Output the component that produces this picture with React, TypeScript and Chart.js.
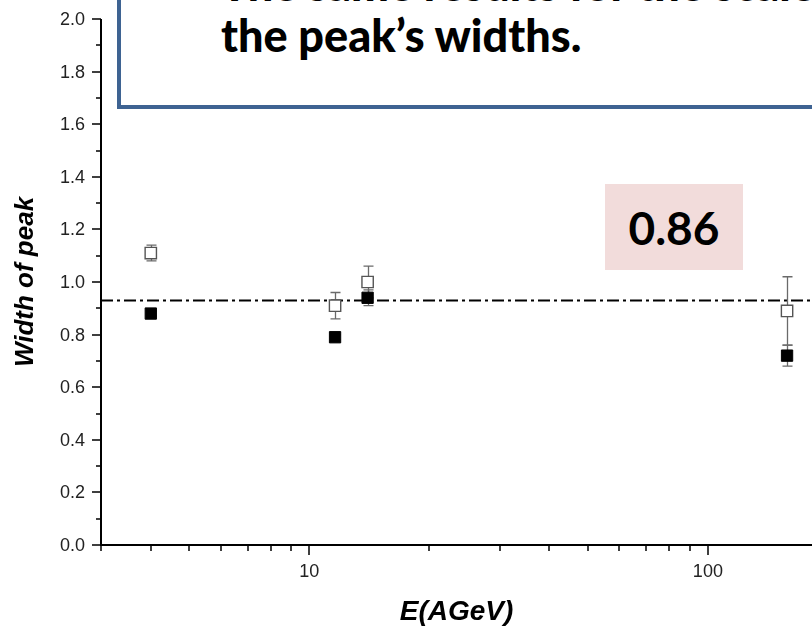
import { useEffect, useRef } from 'react';
import { Chart, registerables } from 'chart.js';

Chart.register(...registerables);

// Beam energy per nucleon (AGeV)
const ENERGY = [4, 11.6, 14, 158];
// Open squares: width of peak with its uncertainty
const OPEN_WIDTH = [1.11, 0.91, 1.0, 0.89];
const OPEN_ERR = [0.03, 0.05, 0.06, 0.13];
// Filled squares: width of peak with its uncertainty
const FILLED_WIDTH = [0.88, 0.79, 0.94, 0.72];
const FILLED_ERR = [0.01, 0.01, 0.03, 0.04];
// Horizontal dash-dot reference level
const REFERENCE_WIDTH = 0.93;

// Axis ticks
const X_MIN = 3;
const X_MAX = 182.5;
const X_TICKS = [3, 4, 5, 6, 7, 8, 9, 10, 20, 30, 40, 50, 60, 70, 80, 90, 100];
const X_LABELED = [10, 100];
const Y_MIN = 0;
const Y_MAX = 2;
const Y_TICKS = [0, 0.1, 0.2, 0.3, 0.4, 0.5, 0.6, 0.7, 0.8, 0.9, 1.0, 1.1, 1.2, 1.3, 1.4, 1.5, 1.6, 1.7, 1.8, 1.9, 2.0];
const Y_LABELED = ['0.0', '0.2', '0.4', '0.6', '0.8', '1.0', '1.2', '1.4', '1.6', '1.8', '2.0'];

const X_TITLE = 'E(AGeV)';
const Y_TITLE = 'Width of peak';
const NOTE_LINES = ['The same results for the scaled variance and', 'the peak\u2019s widths.'];
const BADGE = '0.86';

const AXIS_FONT = "'Liberation Sans', Arial, sans-serif";
const TICK_FONT = "18px 'Liberation Sans', Arial, sans-serif";

// Error bars and the dash-dot reference line, painted beneath the markers
const underlay = {
  id: 'underlay',
  beforeDatasetsDraw(chart: any) {
    const { ctx, chartArea, scales } = chart;
    const x = scales.x;
    const y = scales.y;
    ctx.save();
    const yr = Math.round(y.getPixelForValue(REFERENCE_WIDTH)) + 0.5;
    ctx.strokeStyle = '#000';
    ctx.lineWidth = 2;
    ctx.setLineDash([12, 4, 3, 4]);
    ctx.beginPath();
    ctx.moveTo(chartArea.left, yr);
    ctx.lineTo(chartArea.right, yr);
    ctx.stroke();
    ctx.setLineDash([]);

    ctx.strokeStyle = '#6a6a6a';
    ctx.lineWidth = 1.3;
    chart.data.datasets.forEach((ds: any) => {
      ds.data.forEach((p: any, i: number) => {
        const e = ds.errors[i];
        const px = Math.round(x.getPixelForValue(p.x)) + 0.5;
        const top = y.getPixelForValue(p.y + e);
        const bot = y.getPixelForValue(p.y - e);
        ctx.beginPath();
        ctx.moveTo(px, top);
        ctx.lineTo(px, bot);
        ctx.moveTo(px - 5, top);
        ctx.lineTo(px + 5, top);
        ctx.moveTo(px - 5, bot);
        ctx.lineTo(px + 5, bot);
        ctx.stroke();
      });
    });
    ctx.restore();
  },
};

// Axis lines, major and minor tick marks, and tick labels
const axes = {
  id: 'axesFrame',
  afterDraw(chart: any) {
    const { ctx, chartArea, scales } = chart;
    const x = scales.x;
    const y = scales.y;
    ctx.save();
    ctx.strokeStyle = '#000';
    ctx.lineWidth = 2;
    ctx.beginPath();
    ctx.moveTo(chartArea.left, chartArea.top);
    ctx.lineTo(chartArea.left, chartArea.bottom);
    ctx.moveTo(chartArea.left - 1, chartArea.bottom);
    ctx.lineTo(chartArea.right, chartArea.bottom);
    ctx.stroke();

    ctx.lineWidth = 1.5;
    ctx.beginPath();
    X_TICKS.forEach((v) => {
      const px = Math.round(x.getPixelForValue(v));
      const len = X_LABELED.includes(v) ? 10 : 6;
      ctx.moveTo(px, chartArea.bottom);
      ctx.lineTo(px, chartArea.bottom + len);
    });
    Y_TICKS.forEach((v) => {
      const py = Math.round(y.getPixelForValue(v));
      const len = Y_LABELED.includes(v.toFixed(1)) ? 9 : 5;
      ctx.moveTo(chartArea.left, py);
      ctx.lineTo(chartArea.left - len, py);
    });
    ctx.stroke();

    ctx.fillStyle = '#222';
    ctx.font = TICK_FONT;
    ctx.textAlign = 'right';
    ctx.textBaseline = 'middle';
    Y_TICKS.forEach((v) => {
      const t = v.toFixed(1);
      if (!Y_LABELED.includes(t)) return;
      ctx.fillText(t, chartArea.left - 16, y.getPixelForValue(v) + 1);
    });
    ctx.textAlign = 'center';
    X_LABELED.forEach((v) => {
      ctx.fillText(String(v), x.getPixelForValue(v), chartArea.bottom + 27);
    });
    ctx.restore();
  },
};

export default function App() {
  const canvasRef = useRef<HTMLCanvasElement | null>(null);

  useEffect(() => {
    const canvas = canvasRef.current;
    if (!canvas) return;
    const chart = new Chart(canvas, {
      type: 'scatter',
      data: {
        datasets: [
          {
            label: 'open',
            data: ENERGY.map((e, i) => ({ x: e, y: OPEN_WIDTH[i] })),
            errors: OPEN_ERR,
            pointStyle: 'rect',
            pointRadius: 8,
            pointBackgroundColor: '#fff',
            pointBorderColor: '#555',
            pointBorderWidth: 1.4,
            showLine: false,
          } as any,
          {
            label: 'filled',
            data: ENERGY.map((e, i) => ({ x: e, y: FILLED_WIDTH[i] })),
            errors: FILLED_ERR,
            pointStyle: 'rect',
            pointRadius: 8,
            pointBackgroundColor: '#000',
            pointBorderColor: '#000',
            pointBorderWidth: 1,
            showLine: false,
          } as any,
        ],
      },
      options: {
        animation: false,
        responsive: false,
        devicePixelRatio: 1,
        layout: { autoPadding: false, padding: { top: 19, right: 0, left: 0, bottom: 0 } },
        plugins: {
          legend: { display: false },
          tooltip: { enabled: false },
        },
        scales: {
          x: {
            type: 'logarithmic',
            min: X_MIN,
            max: X_MAX,
            bounds: 'data',
            grid: { display: false, drawTicks: false },
            border: { display: false },
            afterBuildTicks: (s: any) => {
              s.ticks = X_TICKS.map((v) => ({ value: v, major: X_LABELED.includes(v) }));
            },
            afterFit: (s: any) => {
              s.height = 88;
            },
            ticks: { display: false },
            title: {
              display: true,
              text: X_TITLE,
              color: '#000',
              font: { family: AXIS_FONT, size: 28, style: 'italic', weight: 'bold' },
              padding: { top: 0, bottom: 4 },
            },
          },
          y: {
            type: 'linear',
            min: Y_MIN,
            max: Y_MAX,
            grid: { display: false, drawTicks: false },
            border: { display: false },
            afterBuildTicks: (s: any) => {
              s.ticks = Y_TICKS.map((v) => ({ value: v }));
            },
            afterFit: (s: any) => {
              s.width = 101;
            },
            ticks: { display: false },
            title: {
              display: true,
              text: Y_TITLE,
              color: '#000',
              font: { family: AXIS_FONT, size: 26, style: 'italic', weight: 'bold' },
              padding: { top: 10, bottom: 0 },
            },
          },
        },
      },
      plugins: [underlay, axes],
    });
    return () => chart.destroy();
  }, []);

  return (
    <div
      style={{
        position: 'fixed',
        left: 0,
        top: 0,
        width: 812,
        height: 633,
        overflow: 'hidden',
        background: '#fff',
      }}
    >
      <canvas ref={canvasRef} width={812} height={633} style={{ position: 'absolute', left: 0, top: 0 }} />
      <div
        style={{
          position: 'absolute',
          left: 117,
          top: -80,
          width: 760,
          height: 188.5,
          boxSizing: 'border-box',
          border: '4.5px solid #3e6392',
          background: '#fff',
        }}
      />
      {NOTE_LINES.map((line, i) => (
        <div
          key={i}
          style={{
            position: 'absolute',
            left: 221,
            top: i === 0 ? -40 : 11,
            fontFamily: "'Comic Sans MS', Lato, sans-serif",
            fontWeight: 900,
            fontSize: 45,
            lineHeight: '49px',
            color: '#000',
            whiteSpace: 'nowrap',
          }}
        >
          {line}
        </div>
      ))}
      <div
        style={{
          position: 'absolute',
          left: 605,
          top: 184,
          width: 138,
          height: 86,
          background: '#f2dcdb',
          display: 'flex',
          alignItems: 'center',
          justifyContent: 'center',
          fontFamily: "Lato, 'Open Sans', sans-serif",
          fontWeight: 700,
          fontSize: 46,
          color: '#000',
        }}
      >
        {BADGE}
      </div>
    </div>
  );
}
